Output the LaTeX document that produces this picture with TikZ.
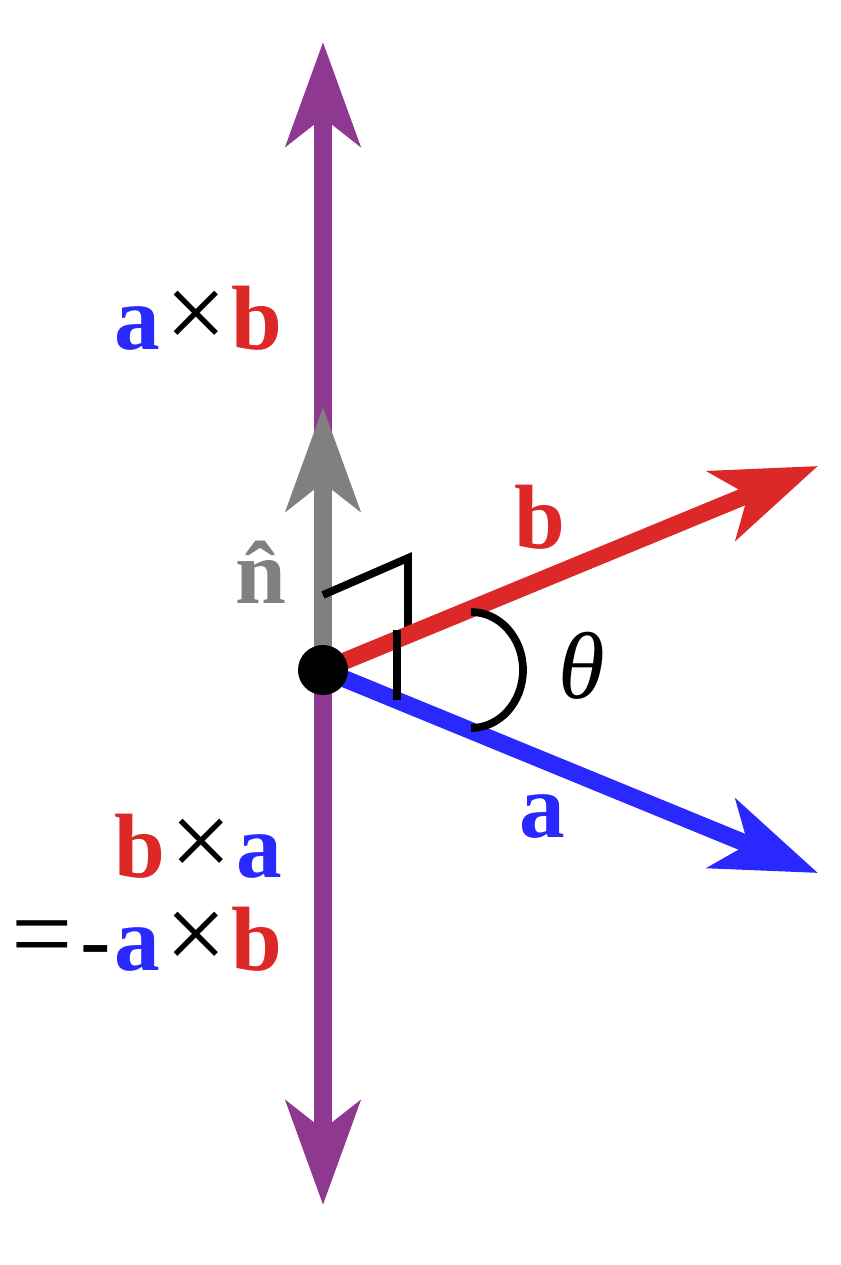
\documentclass[tikz,border=0pt]{standalone}
\usepackage{fontspec}
\setmainfont{Liberation Serif}
\usetikzlibrary{arrows.meta}
\definecolor{crosspurple}{RGB}{142,56,146}
\definecolor{vecred}{RGB}{221,40,40}
\definecolor{vecblue}{RGB}{40,40,255}
\definecolor{normalgray}{RGB}{128,128,128}
\tikzset{vhead/.tip={Stealth[length=59pt,width=42pt,inset=16pt]}}
\newcommand{\crosssign}{\kern3pt{\mdseries\fontsize{62}{62}\selectfont×}\kern3pt}
\newcommand{\negsign}{{\mdseries\fontsize{62}{62}\selectfont=}\kern4pt{\mdseries-}\kern2pt}
\begin{document}
\begin{tikzpicture}[x=0.02cm,y=0.02cm,
		vec/.style={line width=9.8pt},
		anglemark/.style={line width=4.4pt},
		lbl/.style={inner sep=0pt,font=\fontsize{52}{52.7}\selectfont\bfseries}]
		\useasboundingbox (-323,-595) rectangle (517,670);
		\coordinate (O) at (0,0);
		\coordinate (top) at (0,628);
		\coordinate (bottom) at (0,-535);
		\coordinate (ntip) at (0,263);
		\coordinate (btip) at (495,204);
		\coordinate (atip) at (495,-203);
		\coordinate (nmark) at (0,75);
		\coordinate (cmark) at (85,112);
		\coordinate (bmark) at (85,35);
		\coordinate (bamark) at (74,40);
		\coordinate (amark) at (74,-30);
		\coordinate (arcstart) at (148,58);
		\draw[vec,crosspurple,{vhead}-{vhead}] (bottom) -- (top);
		\draw[vec,normalgray,-{vhead}] (O) -- (ntip);
		\draw[anglemark] (nmark) -- (cmark) -- (bmark);
		\draw[vec,vecred,-{vhead}] (O) -- (btip);
		\draw[vec,vecblue,-{vhead}] (O) -- (atip);
		\draw[anglemark] (bamark) -- (amark);
		\draw[anglemark] (arcstart) arc[start angle=90,end angle=-90,x radius=52,y radius=58];
		\fill (O) circle[radius=25];
		\node[lbl,anchor=base east] (axb) at (-40,320) {\textcolor{vecblue}{a}\crosssign\textcolor{vecred}{b}};
		\node[lbl,align=right,anchor=base east] (bxa) at (-40,-300) {\textcolor{vecred}{b}\crosssign\textcolor{vecblue}{a}\\\negsign\textcolor{vecblue}{a}\crosssign\textcolor{vecred}{b}};
		\node[lbl,anchor=base,text=normalgray] (nhat) at (-62,67) {\^{n}};
		\node[lbl,anchor=base,text=vecred] (blbl) at (217,122) {b};
		\node[lbl,anchor=base,text=vecblue] (albl) at (219,-167) {a};
		\node[inner sep=0pt,font=\fontsize{54}{62}\selectfont\itshape] (theta) at (259,4) {θ};
	\end{tikzpicture}
\end{document}
